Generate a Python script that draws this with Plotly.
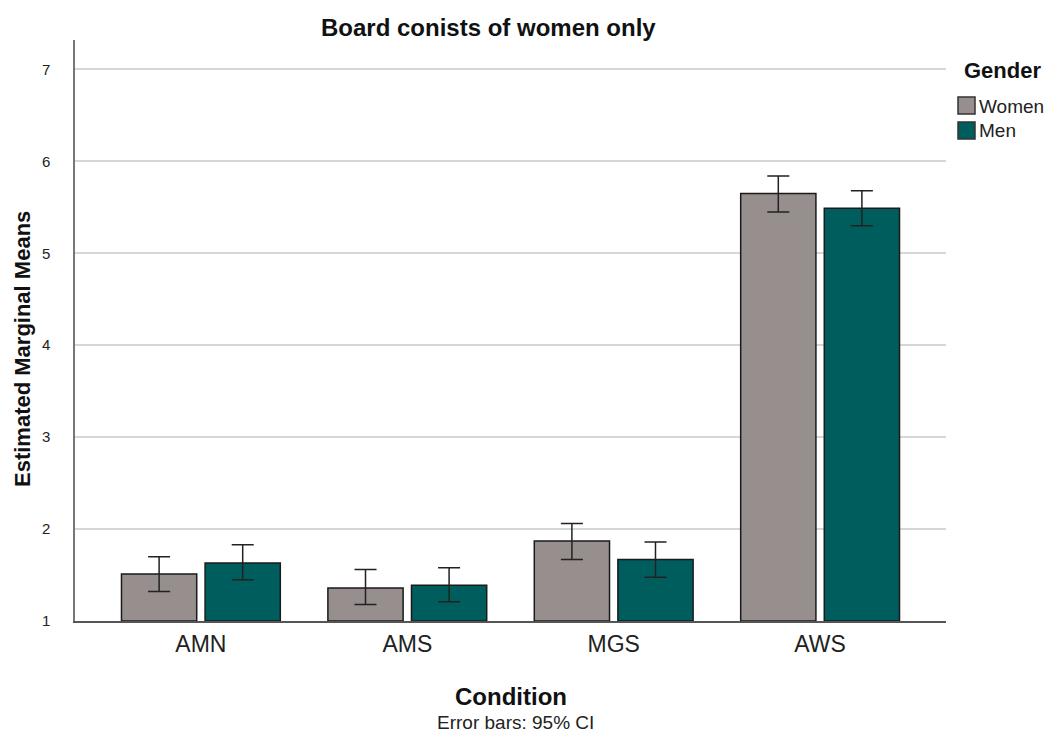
import plotly.graph_objects as go

conditions = ["AMN", "AMS", "MGS", "AWS"]
women_mean = [1.51, 1.36, 1.87, 5.65]
women_low = [1.32, 1.18, 1.67, 5.45]
women_high = [1.70, 1.56, 2.06, 5.84]
men_mean = [1.63, 1.39, 1.67, 5.49]
men_low = [1.45, 1.21, 1.475, 5.30]
men_high = [1.83, 1.58, 1.86, 5.68]
y_ticks = [1, 2, 3, 4, 5, 6, 7]
women_color = "#968f8e"
men_color = "#005d5d"

# plot-area geometry in pixels
L, R, T, B = 75, 105, 40, 115
W, H = 1051, 736
PW, PH = W - L - R, H - T - B

def px(x):
    return (x - L) / PW

def py(y):
    return 1 - (y - T) / PH

def err(mean, low, high):
    return dict(type="data", symmetric=False,
                array=[h - m for m, h in zip(mean, high)],
                arrayminus=[m - l for m, l in zip(mean, low)],
                color="#222222", thickness=1.5, width=11)

fig = go.Figure()
fig.add_trace(go.Bar(x=conditions, y=[m - 1 for m in women_mean], base=1, name="Women",
                     marker=dict(color=women_color, line=dict(color="#1a1a1a", width=1.5)),
                     error_y=err(women_mean, women_low, women_high), showlegend=False))
fig.add_trace(go.Bar(x=conditions, y=[m - 1 for m in men_mean], base=1, name="Men",
                     marker=dict(color=men_color, line=dict(color="#1a1a1a", width=1.5)),
                     error_y=err(men_mean, men_low, men_high), showlegend=False))

font_family = "Liberation Sans, Arial, sans-serif"

annotations = [
    dict(text="<b>Board conists of women only</b>", x=px(488), y=py(27),
         xanchor="center", yanchor="middle", font=dict(size=24)),
    dict(text="<b>Condition</b>", x=px(511), y=py(696),
         xanchor="center", yanchor="middle", font=dict(size=24)),
    dict(text="Error bars: 95% CI", x=px(515), y=py(722),
         xanchor="center", yanchor="middle", font=dict(size=19, color="#222222")),
    dict(text="<b>Estimated Marginal Means</b>", x=px(22), y=py(349), textangle=-90,
         xanchor="center", yanchor="middle", font=dict(size=22)),
    dict(text="<b>Gender</b>", x=px(962), y=py(70),
         xanchor="left", yanchor="middle", font=dict(size=22)),
    dict(text="Women", x=px(977), y=py(106),
         xanchor="left", yanchor="middle", font=dict(size=19, color="#222222")),
    dict(text="Men", x=px(977), y=py(131),
         xanchor="left", yanchor="middle", font=dict(size=19, color="#222222")),
]
for a in annotations:
    a.update(xref="paper", yref="paper", showarrow=False)

shapes = [
    dict(type="rect", xref="paper", yref="paper", x0=px(958), x1=px(975), y0=py(97), y1=py(114),
         fillcolor=women_color, line=dict(color="#333333", width=1.5)),
    dict(type="rect", xref="paper", yref="paper", x0=px(958), x1=px(975), y0=py(122), y1=py(139),
         fillcolor=men_color, line=dict(color="#333333", width=1.5)),
]

fig.update_layout(
    width=W, height=H,
    paper_bgcolor="white", plot_bgcolor="white",
    margin=dict(l=L, r=R, t=T, b=B, autoexpand=False),
    barmode="group", bargap=0.19, bargroupgap=0.1,
    font=dict(family=font_family, color="#111111"),
    showlegend=False,
    xaxis=dict(range=[-0.61, 3.61], showline=True, linecolor="#555555", linewidth=1.5,
               showgrid=False, ticks="", tickfont=dict(size=23, color="#222222"),
               ticklabelstandoff=2),
    yaxis=dict(range=[1, 7.32], tickvals=y_ticks, showline=True, linecolor="#777777",
               linewidth=1.5, showgrid=True, gridcolor="#d6d6d6", gridwidth=2,
               ticks="", tickfont=dict(size=15, color="#222222"), zeroline=False,
               ticklabelstandoff=20),
    annotations=annotations,
    shapes=shapes,
)

fig.write_html("out.html", config={"displayModeBar": False},
               post_script="document.body.style.margin='0px';document.body.style.overflow='hidden';")
